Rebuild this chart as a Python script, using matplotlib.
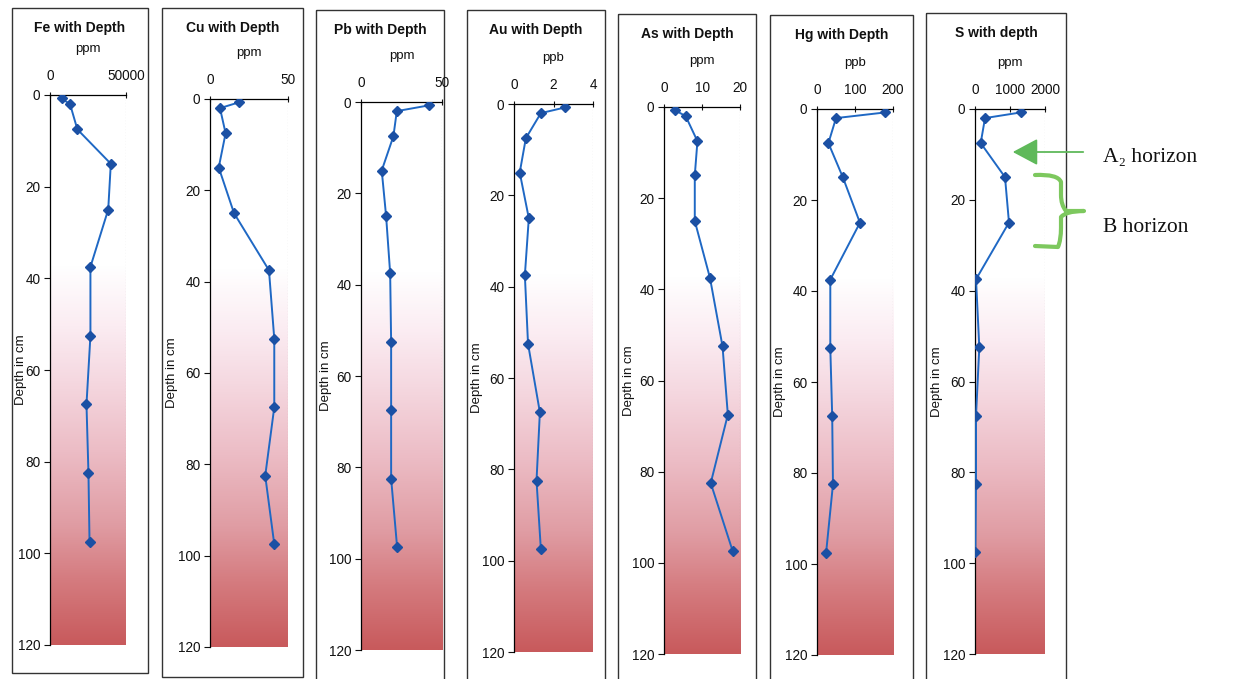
import numpy as np
import matplotlib
matplotlib.use('Agg')
import matplotlib.pyplot as plt
from matplotlib.colors import LinearSegmentedColormap
from matplotlib.patches import Rectangle, FancyArrowPatch, PathPatch
from matplotlib.path import Path

plt.rcParams['font.family'] = ['Liberation Sans', 'DejaVu Sans']

# ---------------- data ----------------
depth = [0.75, 2, 7.5, 15, 25, 37.5, 52.5, 67.5, 82.5, 97.5]
fe = [7600, 13200, 18000, 40000, 38300, 26600, 26600, 24000, 25300, 26000]
cu = [18.4, 6.4, 10, 5.6, 15.4, 37.8, 41.2, 41.2, 35.4, 41.2]
pb = [41.7, 22.1, 20, 12.8, 15.5, 18, 18.6, 18.6, 18.6, 22.3]
au = [2.59, 1.36, 0.6, 0.29, 0.75, 0.55, 0.71, 1.31, 1.14, 1.36]
as_ = [3.0, 5.7, 8.8, 8.1, 8.1, 12.1, 15.4, 16.8, 12.3, 18.1]
hg = [180, 50, 30, 68, 113, 35, 35, 40, 42, 24]
s = [1314, 286, 163, 857, 971, 29, 123, 29, 29, 10]

series = [fe, cu, pb, au, as_, hg, s]
titles = ["Fe with Depth", "Cu with Depth", "Pb with Depth", "Au with Depth",
          "As with Depth", "Hg with Depth", "S with depth"]
units = ["ppm", "ppm", "ppm", "ppb", "ppm", "ppb", "ppm"]
x_max = [50000, 50, 50, 4, 20, 200, 2000]
x_step = [50000, 50, 50, 2, 10, 100, 1000]
depth_ticks = [0, 20, 40, 60, 80, 100, 120]
ylabel = "Depth in cm"
horizon_labels = ["A\u2082 horizon", "B horizon"]

# ---------------- layout (pixels) ----------------
W, H = 1236, 679
# box_left, box_top, box_right, box_bottom, ax_left, ax_right, ax_top, ax_bottom, ylabel_x
layout = [
    (12, 8, 148, 673, 50, 126, 95, 645, 21),
    (162, 8, 303, 677, 210, 288, 99, 647, 172),
    (316, 10, 444, 681, 361, 442, 102, 650, 326),
    (467, 10, 605, 681, 514, 593, 104, 652, 477),
    (618, 14, 756, 681, 664, 740, 107, 654, 629),
    (770, 15, 913, 681, 817, 893, 109, 655, 780),
    (926, 13, 1066, 681, 975, 1045, 109, 654, 937),
]

fig = plt.figure(figsize=(W / 100, H / 100), dpi=100)
fig.patch.set_facecolor('white')

bg = fig.add_axes([0, 0, 1, 1], zorder=0)
bg.set_xlim(0, W)
bg.set_ylim(H, 0)
bg.axis('off')

grad = LinearSegmentedColormap.from_list('soil', [
    (0.0, '#ffffff'), (0.31, '#ffffff'), (0.42, '#fbecf2'), (0.52, '#f5d8e0'),
    (0.65, '#ecbcc5'), (0.78, '#e09da4'), (0.88, '#d57c80'), (1.0, '#c85a5c')])
gimg = np.linspace(0, 1, 256).reshape(-1, 1)

line_col = '#1f68c4'
mark_col = '#1b50a4'

for i, (vals, title, unit, xm, xs) in enumerate(zip(series, titles, units, x_max, x_step)):
    bl, bt, br, bb, al, ar, at, ab, ylx = layout[i]
    bg.add_patch(Rectangle((bl, bt), br - bl, bb - bt, fill=False,
                           edgecolor='#333333', lw=1.0))
    ax = fig.add_axes([al / W, 1 - ab / H, (ar - al) / W, (ab - at) / H], zorder=2)
    ax.set_facecolor('none')
    ax.imshow(gimg, extent=[0, xm, 120, 0], aspect='auto', cmap=grad, zorder=0)
    ax.plot(vals, depth, color=line_col, lw=1.4, marker='D', markersize=4.8,
            markerfacecolor=mark_col, markeredgecolor=mark_col, zorder=3)
    ax.set_xlim(0, xm)
    ax.set_ylim(120, 0)
    ax.xaxis.tick_top()
    ticks = np.arange(0, xm + xs / 2, xs)
    ax.set_xticks(ticks)
    ax.set_xticklabels([f"{int(v)}" for v in ticks])
    ax.set_yticks(depth_ticks)
    ax.tick_params(axis='x', direction='inout', length=5, width=0.8, labelsize=9.8,
                   pad=6, colors='#111111')
    ax.tick_params(axis='y', direction='out', length=4, width=0.8, labelsize=9.8,
                   pad=3, colors='#111111')
    for sp in ['right', 'bottom']:
        ax.spines[sp].set_visible(False)
    ax.spines['top'].set_linewidth(0.9)
    ax.spines['left'].set_linewidth(0.9)
    ax.axvline(xm, color='#999999', lw=0.8, ls=':', zorder=1)
    # titles & units
    bg.text((bl + br) / 2, bt + 20, title, ha='center', va='center',
            fontsize=10, fontweight='bold', color='#111111')
    bg.text((al + ar) / 2, at - 46, unit, ha='center', va='center',
            fontsize=9.5, color='#111111')
    bg.text(ylx, (at + ab) / 2, ylabel, ha='center', va='center',
            rotation=90, fontsize=9.5, color='#111111')

# ---------------- annotations ----------------
top = fig.add_axes([0, 0, 1, 1], zorder=5)
top.set_xlim(0, W)
top.set_ylim(H, 0)
top.axis('off')
top.patch.set_alpha(0)

arrow = FancyArrowPatch((1086, 152), (1010, 152),
                        arrowstyle='-|>,head_length=6,head_width=3.2',
                        mutation_scale=2.6, color='#5fb95a', lw=1.3)
top.add_patch(arrow)

verts = [(1035, 175), (1058, 174), (1061, 182), (1061, 195),
         (1061, 205), (1066, 211), (1084, 211),
         (1066, 211), (1061, 217), (1061, 228),
         (1061, 240), (1058, 247), (1035, 246)]
codes = [Path.MOVETO, Path.CURVE3, Path.CURVE3, Path.LINETO,
         Path.CURVE3, Path.CURVE3, Path.LINETO,
         Path.CURVE3, Path.CURVE3, Path.LINETO,
         Path.CURVE3, Path.CURVE3, Path.LINETO]
top.add_patch(PathPatch(Path(verts, codes), fill=False, edgecolor='#7dc85e',
                        lw=3, capstyle='round', joinstyle='round'))

top.text(1103, 157, horizon_labels[0], ha='left', va='center', fontsize=15.5,
         family=['Liberation Serif', 'DejaVu Serif'], color='#111111')
top.text(1103, 228, horizon_labels[1], ha='left', va='center', fontsize=15.5,
         family=['Liberation Serif', 'DejaVu Serif'], color='#111111')

fig.savefig('out.png', dpi=100)
